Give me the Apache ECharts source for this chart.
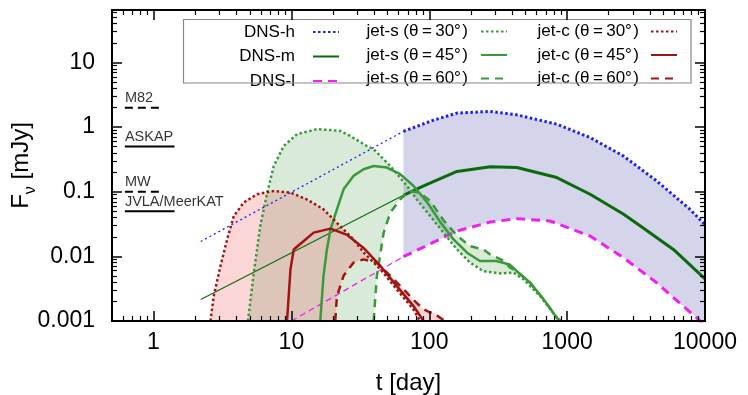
<!DOCTYPE html>
<html><head><meta charset="utf-8">
<script src="https://cdn.jsdelivr.net/npm/echarts@6/dist/echarts.min.js"></script>
<style>html,body{margin:0;padding:0;background:#fff}
#wrap{position:relative;width:748px;height:395px}
#c,#f{position:absolute;left:0;top:0;width:748px;height:395px}
#f{pointer-events:none}</style>
</head><body><div id="wrap"><div id="c"></div><div id="f"></div></div>
<script>
// ---- data (t in days, flux in mJy) ----
const dnsH_t = [65, 107, 159, 277, 432, 842, 1468, 2545, 4467, 7780, 10000];
const dnsH_f = [0.86, 1.28, 1.65, 1.75, 1.55, 1.11, 0.69, 0.36, 0.147, 0.0535, 0.031];
const dnsHthin_t = [2.2, 65];
const dnsHthin_f = [0.017, 0.86];

const dnsM_t = [65, 91, 159, 277, 432, 842, 1468, 2570, 3400, 5900, 10000];
const dnsM_f = [0.088, 0.123, 0.206, 0.243, 0.237, 0.166, 0.0915, 0.0448, 0.0295, 0.0128, 0.0045];
const dnsMthin_t = [2.2, 65];
const dnsMthin_f = [0.00215, 0.088];

const dnsL_t = [65, 159, 277, 432, 753, 1468, 2570, 4467, 6966, 8710, 10000];
const dnsL_f = [0.0099, 0.0247, 0.034, 0.0384, 0.0353, 0.0206, 0.0095, 0.0039, 0.00169, 0.00112, 0.00085];
const dnsLthin_t = [10, 65];
const dnsLthin_f = [0.001, 0.0099];

const js30_t = [4.85, 5.3, 5.95, 6.68, 7.45, 8.8, 11.0, 15.3, 19.2, 22.6, 26.7, 35.3, 39.5, 52.2, 69, 81, 101.7, 127, 159, 198, 247, 327, 409, 484, 640, 842, 900];
const js30_f = [0.001, 0.005, 0.0295, 0.097, 0.25, 0.51, 0.78, 0.93, 0.9, 0.875, 0.73, 0.51, 0.456, 0.25, 0.123, 0.0765, 0.042, 0.0233, 0.0128, 0.008, 0.0059, 0.00545, 0.0056, 0.0044, 0.0024, 0.00112, 0.001];
const js45_t = [16.2, 17.1, 18.1, 19.2, 21.4, 23.9, 28.2, 33.4, 39.5, 49.3, 61.6, 77, 97, 121, 150, 188, 233, 306, 382, 432, 540, 677, 842, 890];
const js45_f = [0.001, 0.005, 0.0128, 0.026, 0.0535, 0.109, 0.176, 0.223, 0.25, 0.237, 0.187, 0.123, 0.068, 0.0333, 0.0183, 0.0114, 0.0085, 0.0085, 0.0075, 0.0059, 0.0039, 0.00215, 0.00112, 0.001];
const js60_t = [39.5, 41.7, 46.7, 52.2, 61.6, 72.5, 85, 101.7, 127, 159, 198, 247, 277, 346, 385, 432, 540, 677, 842, 890];
const js60_f = [0.001, 0.005, 0.0233, 0.0475, 0.0765, 0.103, 0.097, 0.072, 0.036, 0.021, 0.0144, 0.0128, 0.0107, 0.0085, 0.0067, 0.0059, 0.0039, 0.00215, 0.00112, 0.001];

const jc30_t = [2.59, 2.73, 3.06, 3.42, 3.82, 4.51, 5.63, 7.45, 9.85, 12.9, 17.1, 21.4, 28.2, 33.4, 44.3, 58, 77, 85.4];
const jc30_f = [0.001, 0.0024, 0.0071, 0.0183, 0.042, 0.068, 0.0915, 0.103, 0.097, 0.0765, 0.0535, 0.033, 0.0183, 0.0115, 0.0063, 0.0031, 0.0015, 0.001];
const jc45_t = [9.3, 9.85, 10.4, 12.3, 14.5, 19.2, 25.4, 33.4, 44.3, 58, 77, 91];
const jc45_f = [0.001, 0.0063, 0.0128, 0.0173, 0.0233, 0.0269, 0.0215, 0.0135, 0.0071, 0.0035, 0.0017, 0.001];
const jc60_t = [20.8, 21.4, 23.9, 28.2, 33.4, 41.7, 52.2, 65, 81, 92, 101.7, 106, 130];
const jc60_f = [0.001, 0.0024, 0.005, 0.008, 0.009, 0.008, 0.005, 0.0031, 0.0019, 0.0015, 0.00135, 0.00135, 0.001];

const sensNames = ['M82', 'ASKAP', 'MW', 'JVLA/MeerKAT'];
const sensFlux = [2, 0.5, 0.1, 0.05];
const sensTStart = [0.62, 0.62, 0.62, 0.62];
const sensTEnd = [1.14, 1.42, 1.14, 1.42];
const sensDashed = [true, false, true, false];

const X_MIN = 0.5, X_MAX = 10000, Y_MIN = 0.001, Y_MAX = 65;

// ---- build ----
const FONT = 'Liberation Sans, Arial, sans-serif';
const C_BLUE = '#2020ee', C_DG = '#0b6a0b', C_MAG = '#f020f0', C_G = '#3a9a3a', C_R = '#a01414';
const GRID = { left: 112, right: 43, top: 10, bottom: 74, outerBoundsMode: 'none' };
const zip = (a, b) => a.map((v, i) => [v, b[i]]);

function band(upT, upF, loT, loF, fill) {
  return {
    type: 'custom', silent: true, z: 1, clip: true, data: [[upT[0], upF[0]]],
    renderItem: (params, api) => {
      const pts = [];
      for (let i = 0; i < upT.length; i++) pts.push(api.coord([upT[i], upF[i]]));
      for (let i = loT.length - 1; i >= 0; i--) pts.push(api.coord([loT[i], loF[i]]));
      return { type: 'polygon', shape: { points: pts }, style: { fill: fill } };
    }
  };
}
function line(name, t, f, color, width, type) {
  return {
    name: name, type: 'line', data: zip(t, f), symbol: 'none', silent: true, z: 3,
    lineStyle: { color: color, width: width, type: type, cap: 'butt' }, itemStyle: { color: color }
  };
}

const series = [
  band(dnsH_t, dnsH_f, dnsL_t, dnsL_f, 'rgba(100,100,180,0.28)'),
  band(js30_t, js30_f, js60_t, js60_f, 'rgba(80,160,80,0.22)'),
  band(jc30_t, jc30_f, jc60_t, jc60_f, 'rgba(235,90,90,0.25)'),
  line('DNS-h-thin', dnsHthin_t, dnsHthin_f, C_BLUE, 1.3, [2, 3]),
  line('DNS-m-thin', dnsMthin_t, dnsMthin_f, C_DG, 1.1, 'solid'),
  line('DNS-l-thin', dnsLthin_t, dnsLthin_f, C_MAG, 1.3, [6, 4]),
  line('DNS-h', dnsH_t, dnsH_f, C_BLUE, 3, [2.5, 2.5]),
  line('DNS-m', dnsM_t, dnsM_f, C_DG, 3, 'solid'),
  line('DNS-l', dnsL_t, dnsL_f, C_MAG, 3, [9, 6]),
  line('jet-s (θ=30°)', js30_t, js30_f, C_G, 2.5, [2.5, 2.5]),
  line('jet-s (θ=45°)', js45_t, js45_f, C_G, 2.5, 'solid'),
  line('jet-s (θ=60°)', js60_t, js60_f, C_G, 2.5, [8, 6]),
  line('jet-c (θ=30°)', jc30_t, jc30_f, C_R, 2.5, [2.5, 2.5]),
  line('jet-c (θ=45°)', jc45_t, jc45_f, C_R, 2.5, 'solid'),
  line('jet-c (θ=60°)', jc60_t, jc60_f, C_R, 2.5, [8, 6])
];
sensNames.forEach((n, i) => {
  series.push({
    name: n, type: 'line', symbol: 'none', silent: true, z: 3,
    lineStyle: { color: '#000', width: 2, type: sensDashed[i] ? [8, 5] : 'solid', cap: 'butt' },
    data: [[sensTStart[i], sensFlux[i]], [sensTEnd[i], sensFlux[i]]]
  });
  series.push({
    name: n + '-label', type: 'scatter', silent: true, z: 4, symbolSize: 1,
    itemStyle: { color: 'rgba(0,0,0,0)' },
    label: { show: true, formatter: n, position: 'top', align: 'left', distance: 1.5, fontSize: 14.5, fontFamily: FONT, color: '#000' },
    data: [[sensTStart[i], sensFlux[i]]]
  });
});

const fmt = v => String(+(+v).toPrecision(6));
// main chart axes: labels and scale only (frame ticks are drawn by the overlay below)
const mainAxis = (extra) => Object.assign({
  type: 'log',
  axisLine: { show: true, lineStyle: { color: '#000', width: 2 } },
  axisTick: { show: false }, minorTick: { show: false },
  splitLine: { show: false }, minorSplitLine: { show: false }
}, extra);

const legendFmt = n => n.replace('=', '\u2009=\u2009').replace('°', '°\u200a');
const legendCommon = {
  orient: 'vertical', align: 'right', top: 20, padding: 0, itemGap: 0.5,
  itemWidth: 26, itemHeight: 14, selectedMode: false,
  itemStyle: { opacity: 0 }, formatter: legendFmt,
  textStyle: { fontSize: 17, fontFamily: FONT, color: '#000', lineHeight: 20 }
};

const option = {
  animation: false,
  grid: GRID,
  xAxis: [
    mainAxis({ min: X_MIN, max: X_MAX, position: 'bottom', name: 't [day]', nameLocation: 'middle', nameGap: 50,
      nameTextStyle: { fontSize: 24, fontFamily: FONT, color: '#000' },
      axisLabel: { fontSize: 23, fontFamily: FONT, color: '#000', margin: 10, showMinLabel: false, formatter: fmt } }),
    mainAxis({ min: X_MIN, max: X_MAX, position: 'top', axisLabel: { show: false } })
  ],
  yAxis: [
    mainAxis({ min: Y_MIN, max: Y_MAX, position: 'left',
      axisLabel: { fontSize: 23, fontFamily: FONT, color: '#000', margin: 17, showMaxLabel: false, formatter: fmt } }),
    mainAxis({ min: Y_MIN, max: Y_MAX, position: 'right', axisLabel: { show: false } })
  ],
  legend: [
    Object.assign({}, legendCommon, { right: 408, data: ['DNS-h', 'DNS-m', 'DNS-l'],
      textStyle: Object.assign({}, legendCommon.textStyle, { padding: [0, 13, 4, 0] }) }),
    Object.assign({}, legendCommon, { right: 240, data: ['jet-s (θ=30°)', 'jet-s (θ=45°)', 'jet-s (θ=60°)'],
      textStyle: Object.assign({}, legendCommon.textStyle, { padding: [3, 8, 0, 0] }) }),
    Object.assign({}, legendCommon, { right: 70, data: ['jet-c (θ=30°)', 'jet-c (θ=45°)', 'jet-c (θ=60°)'],
      textStyle: Object.assign({}, legendCommon.textStyle, { padding: [3, 7, 0, 0] }) })
  ],
  graphic: [{ type: 'rect', shape: { x: 183.5, y: 19.5, width: 507.5, height: 63.5 }, style: { fill: 'rgba(0,0,0,0)', stroke: '#888', lineWidth: 1.2 }, z: 10, silent: true }],
  series: series
};
echarts.init(document.getElementById('c'), null, { renderer: 'canvas' }).setOption(option);

// ---- overlay: frame with log major/minor ticks on all sides, and the y-axis title ----
const frameAxis = (extra) => Object.assign({
  type: 'log',
  axisLine: { show: true, lineStyle: { color: '#000', width: 2 } },
  axisTick: { show: true, inside: true, length: 10, lineStyle: { color: '#000', width: 1.5 } },
  minorTick: { show: true, splitNumber: 9, length: 5, lineStyle: { color: '#000', width: 1.2 } },
  axisLabel: { show: false },
  splitLine: { show: false }, minorSplitLine: { show: false }
}, extra);
const frameOption = {
  animation: false, backgroundColor: 'transparent',
  grid: GRID,
  xAxis: [frameAxis({ min: X_MIN, max: X_MAX, position: 'bottom' }),
          frameAxis({ min: X_MIN, max: X_MAX, position: 'top' })],
  yAxis: [frameAxis({ min: Y_MIN, max: Y_MAX, position: 'left', name: '{a|F}{b|ν}{a| [mJy]}', nameLocation: 'middle', nameGap: 73, nameMoveOverlap: false,
            nameTextStyle: { fontSize: 24, fontFamily: FONT, color: '#000',
              rich: { a: { fontSize: 24, fontFamily: FONT, color: '#000', verticalAlign: 'top', lineHeight: 30 },
                      b: { fontSize: 16, fontFamily: FONT, color: '#000', verticalAlign: 'bottom', lineHeight: 16 } } } }),
          frameAxis({ min: Y_MIN, max: Y_MAX, position: 'right' })],
  series: [{ type: 'line', data: [], symbol: 'none', silent: true }]
};
echarts.init(document.getElementById('f'), null, { renderer: 'canvas' }).setOption(frameOption);
</script></body></html>
